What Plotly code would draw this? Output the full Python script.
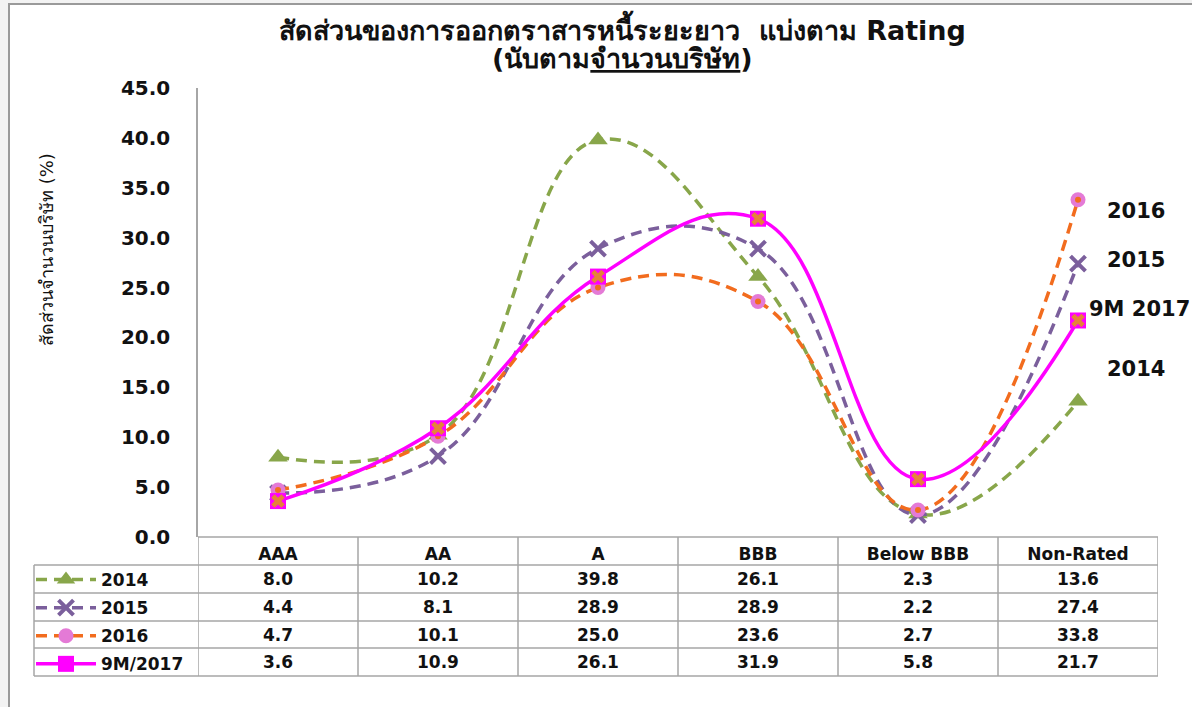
import plotly.graph_objects as go

# Rating buckets and share of issuers (%) per year
categories = ["AAA", "AA", "A", "BBB", "Below BBB", "Non-Rated"]
y2014 = [8.0, 10.2, 39.8, 26.1, 2.3, 13.6]
y2015 = [4.4, 8.1, 28.9, 28.9, 2.2, 27.4]
y2016 = [4.7, 10.1, 25.0, 23.6, 2.7, 33.8]
y2017 = [3.6, 10.9, 26.1, 31.9, 5.8, 21.7]
series_names = ["2014", "2015", "2016", "9M/2017"]
end_labels = ["2016", "2015", "9M 2017", "2014"]
y_ticks = [0, 5, 10, 15, 20, 25, 30, 35, 40, 45]

W, H = 1192, 707
ML, MR, MT, MB = 198, 34, 88, 170
PW, PH = W - ML - MR, H - MT - MB
FONT = "Tahoma, 'DejaVu Sans', 'Noto Sans', sans-serif"
GRID = "#a6a6a6"

GREEN = "#88a64a"
PURPLE = "#7b5f9c"
ORANGE = "#f26c1e"
PINK = "#e47ad6"
MAGENTA = "#ff00ff"
XORANGE = "#e5823a"
SMOOTH = 1.2


def px(x):
    """Pixel column -> paper x."""
    return (x - ML) / PW


def py(y):
    """Pixel row -> paper y."""
    return (H - MB - y) / PH


fig = go.Figure()
dash = "11px,7px"

fig.add_trace(go.Scatter(
    x=categories, y=y2014, name=f"<b>{series_names[0]}</b>", mode="lines+markers",
    line=dict(color=GREEN, width=3.5, dash=dash, shape="spline", smoothing=SMOOTH),
    marker=dict(symbol="triangle-up", size=17, color=GREEN),
    legendgroup="a", cliponaxis=False))
fig.add_trace(go.Scatter(
    x=categories, y=y2015, name=f"<b>{series_names[1]}</b>", mode="lines+markers",
    line=dict(color=PURPLE, width=3.5, dash=dash, shape="spline", smoothing=SMOOTH),
    marker=dict(symbol="x-thin", size=15, color=PURPLE, line=dict(color=PURPLE, width=4)),
    legendgroup="b", cliponaxis=False))
fig.add_trace(go.Scatter(
    x=categories, y=y2016, name=f"<b>{series_names[2]}</b>", mode="lines+markers",
    line=dict(color=ORANGE, width=3.5, dash=dash, shape="spline", smoothing=SMOOTH),
    marker=dict(symbol="circle", size=15, color=PINK),
    legendgroup="c", cliponaxis=False))
fig.add_trace(go.Scatter(
    x=categories, y=y2016, mode="markers", showlegend=False, hoverinfo="skip",
    marker=dict(symbol="circle", size=6, color=ORANGE),
    legendgroup="c", cliponaxis=False))
fig.add_trace(go.Scatter(
    x=categories, y=y2017, name=f"<b>{series_names[3]}</b>", mode="lines+markers",
    line=dict(color=MAGENTA, width=3.5, shape="spline", smoothing=SMOOTH),
    marker=dict(symbol="square", size=16, color=MAGENTA),
    legendgroup="d", cliponaxis=False))
fig.add_trace(go.Scatter(
    x=categories, y=y2017, mode="markers", showlegend=False, hoverinfo="skip",
    marker=dict(symbol="x", size=12, color=XORANGE),
    legendgroup="d", cliponaxis=False))

annotations = []
shapes = []

# Title (two lines, second partly underlined)
annotations.append(dict(
    text="<b>สัดส่วนของการออกตราสารหนี้ระยะยาว  แบ่งตาม Rating</b>",
    x=px(622), y=py(28), xref="paper", yref="paper", showarrow=False,
    font=dict(family=FONT, size=27, color="#111111"), xanchor="center", yanchor="middle"))
annotations.append(dict(
    text="<b>(นับตาม<u>จำนวนบริษัท</u>)</b>",
    x=px(622), y=py(58), xref="paper", yref="paper", showarrow=False,
    font=dict(family=FONT, size=27, color="#111111"), xanchor="center", yanchor="middle"))

# Y-axis title
annotations.append(dict(
    text="สัดส่วนจำนวนบริษัท (%)", x=px(46), y=py(250), xref="paper", yref="paper",
    showarrow=False, textangle=-90, font=dict(family=FONT, size=18, color="#111111"),
    xanchor="center", yanchor="middle"))

# End-of-line series labels
label_pos = [(1105, 211), (1105, 260), (1087, 309), (1105, 369)]
for txt, (lx, ly) in zip(end_labels, label_pos):
    annotations.append(dict(
        text=f"<b>{txt}</b>", x=px(lx), y=py(ly), xref="paper", yref="paper",
        showarrow=False, xanchor="left", yanchor="middle",
        font=dict(family=FONT, size=21, color="#111111")))

# Data table beneath the plot
row_lines = [537, 565, 593, 621, 648, 676]
row_centers = [579, 607, 634.5, 662]
for series, yc in zip([y2014, y2015, y2016, y2017], row_centers):
    for cat, v in zip(categories, series):
        annotations.append(dict(
            text=f"<b>{v:.1f}</b>", x=cat, xref="x", y=py(yc), yref="paper",
            showarrow=False, xanchor="center", yanchor="middle",
            font=dict(family=FONT, size=17, color="#111111")))

for i, yl in enumerate(row_lines):
    x0 = px(198) if i == 0 else px(34)
    shapes.append(dict(type="line", xref="paper", yref="paper", x0=x0, x1=px(1158),
                       y0=py(yl), y1=py(yl), line=dict(color=GRID, width=1.5)))
for k in range(len(categories) + 1):
    shapes.append(dict(type="line", xref="x", yref="paper", x0=k - 0.5, x1=k - 0.5,
                       y0=py(537), y1=py(676), line=dict(color=GRID, width=1.5)))
shapes.append(dict(type="line", xref="paper", yref="paper", x0=px(34), x1=px(34),
                   y0=py(565), y1=py(676), line=dict(color=GRID, width=1.5)))

# Chart-area frame
shapes.append(dict(type="rect", xref="paper", yref="paper", x0=px(9), x1=px(1215),
                   y0=py(4), y1=py(730), line=dict(color="#9a9a9a", width=2),
                   fillcolor="white", layer="below"))

fig.update_layout(
    width=W, height=H,
    margin=dict(l=ML, r=MR, t=MT, b=MB),
    paper_bgcolor="#f3f3f3", plot_bgcolor="rgba(0,0,0,0)",
    font=dict(family=FONT, color="#111111"),
    showlegend=True,
    legend=dict(x=px(31), y=py(562), xanchor="left", yanchor="top",
                traceorder="grouped", tracegroupgap=3, itemwidth=60,
                bgcolor="rgba(0,0,0,0)",
                font=dict(family=FONT, size=17, color="#111111")),
    xaxis=dict(type="category", range=[-0.5, 5.5], showgrid=False, zeroline=False,
               showline=False, ticks="", ticklabelstandoff=5,
               tickfont=dict(family=FONT, size=17, color="#111111"),
               tickvals=categories, ticktext=[f"<b>{c}</b>" for c in categories]),
    yaxis=dict(range=[0, 45], tickvals=y_ticks,
               ticktext=[f"<b>{t:.1f}</b>" for t in y_ticks],
               showgrid=False, zeroline=False, showline=True, linecolor=GRID,
               linewidth=1.5, ticks="", ticklabelstandoff=22,
               tickfont=dict(family=FONT, size=20, color="#111111")),
    annotations=annotations, shapes=shapes,
)

fig.write_html("out.html")
